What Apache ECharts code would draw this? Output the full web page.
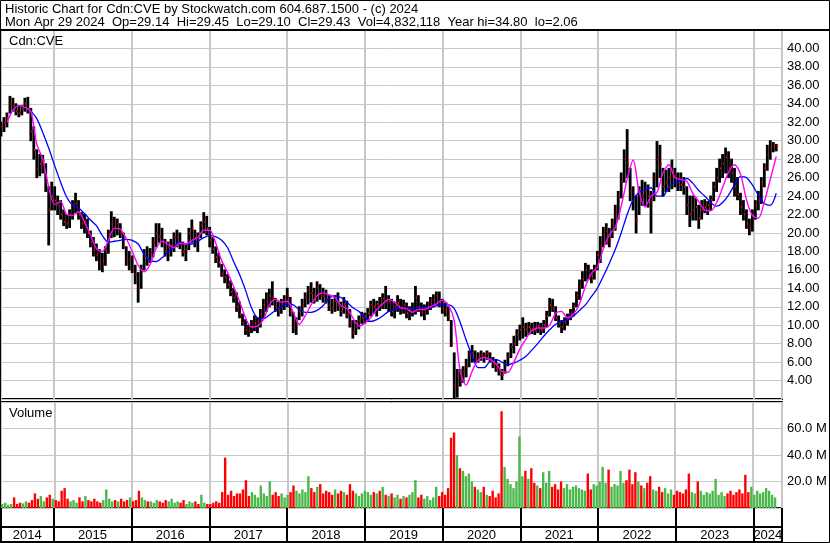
<!DOCTYPE html>
<html><head><meta charset="utf-8">
<script src="https://cdn.jsdelivr.net/npm/echarts@6/dist/echarts.min.js"></script>
<style>html,body{margin:0;padding:0;background:#fff}#c{width:830px;height:543px}</style>
</head><body><div id="c"></div>
<script>
// ---------- texts ----------
const headerLine1 = 'Historic Chart for Cdn:CVE by Stockwatch.com 604.687.1500 - (c) 2024';
const headerLine2 = 'Mon Apr 29 2024  Op=29.14  Hi=29.45  Lo=29.10  Cl=29.43  Vol=4,832,118  Year hi=34.80  lo=2.06';
const symbolLabel = 'Cdn:CVE';
const volumeLabel = 'Volume';
const yearLabels = ['2014','2015','2016','2017','2018','2019','2020','2021','2022','2023','2024'];

// ---------- time frame (bi-weekly bars) ----------
const startYMD = [2014, 3, 29];   // 29 Apr 2014
const endYMD = [2024, 4, 13];     // right edge of the plot
const stepDays = 14;

// ---------- price axis / volume axis ----------
const priceMin = 2, priceMax = 42, priceStep = 2;
const volMin = 0, volMax = 80, volStep = 20;   // millions

// ---------- bi-weekly high / low / close ----------
const highs = [
32,32.5,33,34.8,34.6,34,33.8,33.8,34.6,34.7,
33.5,31.5,29,28.5,28.4,27.5,25,25.5,25,24,
23.5,22.5,22,22.5,23.5,24.3,23.5,22.2,22,21.5,
20.2,19.5,18.8,18.2,17.8,18.5,20.3,22.3,21.7,21.5,
21,20,18.5,18,17.5,16.5,15.7,16.5,18.2,18.5,
18.3,19.5,21,21,20.5,19.3,19,19.3,20,20.3,
20,19,18.7,20.5,21.4,20.3,20,21.2,22.2,21.8,
20.6,19.5,18.5,17.8,16.6,16,15.5,14.8,14,13.5,
12.5,11.2,10.6,10,10.5,11,10.8,11.7,12.8,13.5,
13.9,14.7,12.9,12.5,12.8,13.2,14,13,11.4,10.8,
12,12.8,13.5,14.2,14.6,14,14.7,14.4,14,13.8,
13.2,12.8,13.2,13.5,12.5,13,12.6,11.7,10.5,10.5,
11,11.4,11.3,11.8,12.6,12.8,12.6,13,13.4,14.2,
13.2,12.8,12.5,13.2,12.8,12.7,12.4,12,12.4,14.2,
13.2,12.4,12.2,12.5,13,13.3,13.6,13.6,12.8,12.4,
12,10.5,7,5.2,5.2,5.5,6.3,7.2,7.8,7.2,
7,7.2,7,7.2,7,6.5,6.2,5.8,5.2,6.2,
7,8,8.8,9.5,10,10.8,10.2,10.3,10.2,10.3,
10.3,10.2,10.5,11.5,12.9,12.8,12,11,10.5,10.8,
11.2,11.7,12.4,13.6,14.9,15.8,16.7,16.5,16,16.5,
18,19.6,20.6,21,20.5,21.5,23,24.5,26.5,29,
31.2,27,25,24,25,25.7,25.5,25.2,24.5,26.5,
29.9,29.5,27,26.8,27,27.9,27,26.5,26.5,26,
25,24,24,23.8,23,23.5,23.6,23.4,24,25.5,
27,28,28.5,29.2,28.8,28,27,26,24.3,23.5,
22.5,21.5,22.5,23.5,24.5,26,27.5,29.5,30,29.8,29.6
];
const lows = [
30.5,31,31.5,33,33.2,32.8,32.6,32.8,33.2,33,
30,28,26,26.2,26.5,24.5,18.7,22.5,22.5,22,
21.5,20.8,20.5,20.6,21.5,22.2,21.5,20.5,20,19.5,
18.5,17.5,17,16,15.8,16.5,17.8,19.5,19.6,19.8,
19.5,18.3,16.5,16,15.7,14.5,12.5,14,16,16.5,
16.8,17.4,18.5,19,18.5,17.5,17,17.5,18,18.5,
18.3,17.5,17,18.2,19,18.5,18,19.5,20,19.8,
18.5,17.8,16.8,16.3,15.3,14.6,14,13.2,12.5,11.5,
10.8,10,9,8.8,9.2,9.4,9.2,9.8,10.8,11.5,
12,12.2,11.5,11,11.3,11.7,12,11,9.2,9,
10.6,11,12,12.3,12.5,12.4,12.6,12.8,12.5,12.4,
11.6,11.3,11.5,11.6,11,11.3,10.8,9.8,8.6,9,
9.6,10.2,10.2,10.4,11,11.3,11,11.6,11.8,11.8,
11.5,11,10.8,11.5,11.2,11.3,10.8,10.6,11,11.2,
11.5,11,10.6,11.2,11.7,12,12.2,12,11.3,11,
10.5,7.7,2.06,2.2,3.4,3.8,4.4,5.5,6,6,
6,6.2,6,6.3,6,5.4,5,4.6,4.1,4.8,
5.6,6.5,7,7.8,8.4,8.6,8.8,9,9.1,9,
9.2,9,9.2,9.8,11,11.5,10.5,9.8,9.2,9.5,
10,10.6,11,12,12.8,14,14.8,15,14.6,15,
16,16.8,18.5,18.8,18.5,19.5,20.3,21.5,23.8,25.5,
26,23.5,22.5,20,22,23,23,22.8,20,23.5,
25,26,24,24.5,24.5,24.8,25,24.6,24.6,24.2,
22,20.7,21.4,21.4,20.5,21.5,22.2,22,22.5,23.5,
24.5,25.5,26,26.5,26,25.5,24,23.6,22,21.4,
20.5,19.8,20.2,21.5,22.5,23.2,25,26.8,28,28.8,28.9
];
const closes = [
31.5,32,32.5,34,33.8,33.2,33,33.4,34,33.4,
31,29,27,27.5,27.8,25.5,22.5,24,23.5,23,
22,21.2,21,22,23,23.2,22,21,21.2,20,
19,18.2,17.6,16.8,17,18,19.8,21,20.5,21,
20,18.6,17,17.2,16.2,15.5,14,16,17.5,17.2,
17.8,19,20,19.6,19,18,18.5,18.6,19.5,19.5,
18.8,18,18.2,20,20.5,19.5,19.2,20.8,21.2,20.5,
19.2,18.2,17.4,16.8,15.6,15.2,14.4,13.6,13,12,
11.2,10.2,9.5,9.4,9.8,10.2,10.4,11.2,12.2,12.5,
13.2,13,12,11.6,12.4,12.8,13.2,11.5,9.8,10.2,
11.5,12.2,13,13.8,13.5,13.2,14.1,13.4,13.2,12.8,
12.2,11.8,12.6,12.2,11.5,12.3,11.2,10.2,9.2,9.8,
10.5,10.8,11,11.3,12.2,12,12.3,12.2,12.9,12.5,
12.6,11.5,12,12.4,11.8,12.2,11.3,11.6,11.8,13,
12,11.4,11.8,12,12.4,12.8,13.2,12.6,11.8,11.6,
11,8,3.5,4.5,4,5,5.5,6.8,7,6.4,
6.5,6.8,6.6,6.9,6.3,5.8,5.3,5,4.6,5.8,
6.6,7.6,8,9,9.5,9.8,9.5,9.8,9.6,9.5,
9.9,9.5,10,11,12.2,11.8,10.8,10.2,9.8,10.3,
10.8,11.2,12,13.2,14.2,15,16,15.4,15.3,16,
17.6,18.5,19.8,20.2,19.2,21,22.3,24,25.5,28,
27.5,24.5,23.5,21.5,24.5,24,24.5,24,23.5,26,
28,27.5,25,25.5,26,26.5,26.2,25.5,25.2,25,
23,22,22.5,22.8,21.6,22.5,22.8,23,23.6,25,
26,27,27.5,28.2,27,26.5,25,24.2,22.8,22,
21,20.5,21.8,23,23.5,25.5,27,28.5,29.2,29.4,29.43
];
// bi-weekly volume, millions of shares
const volumes = [
3,4,2.5,3,8,3,4,3.5,5,4,
6,11,7,9,5,8,10,7,6,5,
13,15,7,5,6,4,8,5,9,6,
5,7,5,4,6,14,7,5,6,5,
7,5,6,8,5,6,13,8,6,5,
5,4,6,5,4,6,5,7,4,5,
4,6,3,5,4,5,3,10,4,3,
3,4,5,4,12,38,10,13,9,11,
11,14,21,9,12,10,8,17,11,9,
20,10,12,9,11,8,10,12,17,13,
11,14,12,24,15,12,16,18,11,13,
12,10,14,11,13,12,10,18,13,11,
9,11,13,12,10,12,11,13,16,10,
9,11,8,10,7,9,8,10,12,21,
8,10,7,9,6,8,16,9,12,10,
15,53,57,40,30,28,24,26,20,16,
14,12,16,10,9,13,8,11,73,31,
22,18,15,20,54,24,28,22,30,19,
17,15,27,19,28,16,18,14,20,15,
18,14,16,17,15,14,13,26,14,18,
17,20,31,19,29,16,18,17,28,19,
21,29,18,27,20,17,15,19,24,14,
13,16,12,15,11,14,10,13,12,11,
14,26,12,11,20,13,10,12,11,13,
22,10,12,9,11,13,10,12,14,11,
25,12,16,10,13,11,12,15,13,10,8
];
// moving averages read every 4 weeks (every second bar)
const maShort = [
null,32.0,33.3,33.8,33.6,33.2,29.6,28.0,25.0,23.1,
23.4,22.0,21.9,22.3,21.2,19.8,18.3,18.0,19.2,20.5,
20.4,19.4,18.0,16.5,15.8,16.6,18.3,19.1,18.8,18.4,
18.9,18.8,19.2,19.5,20.3,20.3,18.9,17.0,15.7,14.2,
12.6,10.8,9.8,9.9,10.6,12.2,12.8,12.5,12.6,11.4,
10.1,11.0,12.2,13.2,13.5,13.3,13.0,12.1,11.8,10.8,
9.9,10.2,10.8,11.7,12.3,12.8,12.5,11.9,11.8,11.4,
11.7,11.7,12.0,12.3,12.7,12.2,10.5,5.0,3.5,5.0,
6.2,6.5,6.3,5.8,5.0,4.9,6.0,7.4,8.5,9.4,
9.7,9.7,10.0,11.3,11.5,10.8,11.2,12.3,14.2,15.6,
16.3,18.3,19.8,20.6,22.9,25.8,27.9,24.5,22.8,24.0,
24.4,26.5,27.4,26.0,25.8,25.6,24.3,23.4,22.5,22.4,
23.3,24.9,26.6,27.4,26.4,23.6,21.9,21.6,23.4,25.8,
28.3
];
const maLong = [
null,null,null,null,null,33.2,32.4,30.9,29.2,27.3,
25.5,23.9,23.0,22.7,22.1,21.4,20.8,19.7,19.0,19.1,
19.2,19.3,19.2,18.8,17.7,17.0,16.9,17.3,17.9,18.5,
19.0,18.8,18.8,19.1,19.5,19.7,19.6,19.2,18.4,16.9,
15.5,13.8,11.9,10.8,10.7,11.1,11.6,12.0,12.3,12.2,
11.7,11.4,11.4,11.6,12.1,12.9,13.2,13.0,12.5,11.9,
11.5,10.9,10.4,10.6,11.0,11.5,11.7,11.9,11.8,11.8,
11.9,11.9,11.9,12.1,12.2,12.2,11.8,10.3,8.4,6.7,
5.4,5.4,6.1,6.3,6.0,5.7,5.9,6.2,6.6,7.3,
8.0,8.8,9.5,10.1,10.4,10.6,11.0,11.6,12.2,13.1,
14.0,15.3,16.7,18.2,20.0,22.0,23.6,24.4,24.7,24.9,
24.0,24.0,25.0,25.4,25.7,25.9,25.4,24.6,24.0,23.3,
22.9,23.3,24.1,25.2,26.1,26.0,25.2,24.1,23.2,23.0,
24.3
];

// ---------- build ----------
const DAY = 86400000;
const t0 = new Date(startYMD[0], startYMD[1], startYMD[2]).getTime();
const tEnd = new Date(endYMD[0], endYMD[1], endYMD[2]).getTime();
const dates = closes.map((_, i) => t0 + i * stepDays * DAY);

const priceData = dates.map((t, i) => [t, highs[i], lows[i], closes[i]]);
const volData = dates.map((t, i) => ({
  value: [t, volumes[i]],
  itemStyle: { color: (i === 0 || closes[i] >= closes[i - 1]) ? '#4cb84c' : '#ff0000' }
}));
const maPts = arr => arr.map((v, k) => [dates[2 * k], v]).filter(p => p[1] != null);
const yearSpans = yearLabels.map(y => [
  Math.max(t0, new Date(+y, 0, 1).getTime()),
  Math.min(tEnd, new Date(+y + 1, 0, 1).getTime())
]);

const FONT = 'Liberation Sans, Arial, sans-serif';
const txt = { fontFamily: FONT, fontSize: 13, color: '#000', fontWeight: 'normal' };
const YEAR = 365 * DAY;

function xAx(gridIndex, split) {
  return {
    type: 'time', gridIndex, min: t0, max: tEnd,
    minInterval: YEAR, maxInterval: 366 * DAY, splitNumber: 10,
    axisLine: { show: false }, axisTick: { show: false }, axisLabel: { show: false },
    splitLine: { show: true, lineStyle: split }
  };
}
const gridBase = { show: true, borderColor: '#000', borderWidth: 2, backgroundColor: 'transparent', left: 1, width: 781, containLabel: false, outerBoundsMode: 'none' };

const chart = echarts.init(document.getElementById('c'), null, { renderer: 'canvas' });
chart.setOption({
  animation: false,
  backgroundColor: '#fff',
  title: [
    { text: headerLine1 + '\n' + headerLine2, left: 5, top: 3, padding: 0, textStyle: Object.assign({ lineHeight: 13 }, txt) },
    { text: symbolLabel, left: 9, top: 35, padding: 0, textStyle: txt },
    { text: volumeLabel, left: 9, top: 407, padding: 0, textStyle: txt }
  ],
  grid: [
    Object.assign({ top: 30, height: 369 }, gridBase),
    Object.assign({ top: 402, height: 106 }, gridBase),
    Object.assign({ top: 508, height: 19 }, gridBase),
    Object.assign({ top: 527, height: 15 }, gridBase)
  ],
  xAxis: [
    xAx(0, { color: '#c8c8c8', width: 2 }),
    xAx(1, { color: '#c8c8c8', width: 2 }),
    xAx(2, { color: '#000', width: 2 }),
    xAx(3, { color: '#000', width: 2 })
  ],
  yAxis: [
    { type: 'value', gridIndex: 0, position: 'right', min: priceMin, max: priceMax, interval: priceStep,
      axisLine: { show: false }, axisTick: { show: false },
      axisLabel: Object.assign({ margin: 5, formatter: v => (v <= priceMin || v >= priceMax) ? '' : v.toFixed(2) }, txt),
      splitLine: { show: true, lineStyle: { color: '#c8c8c8', width: 1 } } },
    { type: 'value', gridIndex: 1, position: 'right', min: volMin, max: volMax, interval: volStep,
      axisLine: { show: false }, axisTick: { show: false },
      axisLabel: Object.assign({ margin: 5, formatter: v => (v <= volMin || v >= volMax) ? '' : v.toFixed(1) + ' M' }, txt),
      splitLine: { show: true, lineStyle: { color: '#c8c8c8', width: 1 } } },
    { type: 'value', gridIndex: 2, min: 0, max: 1, show: false },
    { type: 'value', gridIndex: 3, min: 0, max: 1, show: false }
  ],
  series: [
    {
      type: 'custom', xAxisIndex: 0, yAxisIndex: 0, clip: true, z: 2,
      data: priceData, encode: { x: 0, y: [1, 2, 3] },
      renderItem: function (params, api) {
        const x = api.value(0);
        const hi = api.coord([x, api.value(1)]);
        const lo = api.coord([x, api.value(2)]);
        const cl = api.coord([x, api.value(3)]);
        return { type: 'group', children: [
          { type: 'line', shape: { x1: hi[0], y1: hi[1] - 0.5, x2: lo[0], y2: lo[1] + 0.5 }, style: { stroke: '#000', lineWidth: 2.8 } },
          { type: 'rect', shape: { x: cl[0] + 0.3, y: cl[1] - 1, width: 1.6, height: 2 }, style: { fill: '#ff0000' } }
        ] };
      }
    },
    { type: 'line', xAxisIndex: 0, yAxisIndex: 0, z: 4, data: maPts(maLong), showSymbol: false, smooth: 0.3,
      lineStyle: { color: '#0000ff', width: 1.3 }, itemStyle: { color: '#0000ff' } },
    { type: 'line', xAxisIndex: 0, yAxisIndex: 0, z: 5, data: maPts(maShort), showSymbol: false, smooth: 0.3,
      lineStyle: { color: '#ff00ff', width: 1.4 }, itemStyle: { color: '#ff00ff' } },
    { type: 'bar', xAxisIndex: 1, yAxisIndex: 1, barWidth: 2.4, data: volData, z: 2 },
    {
      type: 'custom', xAxisIndex: 3, yAxisIndex: 3, data: yearSpans, encode: { x: [0, 1] },
      renderItem: function (params, api) {
        const a = api.coord([api.value(0), 0.5]);
        const b = api.coord([api.value(1), 0.5]);
        return { type: 'text', style: { text: yearLabels[params.dataIndex], x: (a[0] + b[0]) / 2, y: a[1] + 0.5,
          align: 'center', verticalAlign: 'middle', font: '13px ' + FONT, fill: '#000' } };
      }
    }
  ],
  graphic: [
    { type: 'line', shape: { x1: 0, y1: 30, x2: 830, y2: 30 }, style: { stroke: '#000', lineWidth: 2 }, z: 100 },
    { type: 'rect', shape: { x: 0.5, y: 0.5, width: 829, height: 542 }, style: { stroke: '#000', lineWidth: 1, fill: null }, z: 100 }
  ]
});
</script></body></html>
